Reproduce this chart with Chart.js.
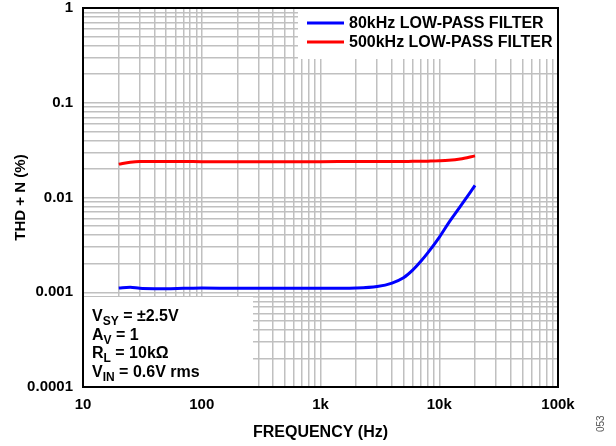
<!DOCTYPE html>
<html>
<head>
<meta charset="utf-8">
<script src="https://cdn.jsdelivr.net/npm/chart.js@4"></script>
<style>
  html, body { margin: 0; padding: 0; background: #fff; }
  #wrap { width: 616px; height: 446px; position: relative; }
</style>
</head>
<body>
<div id="wrap"><canvas id="thdChart" width="616" height="446"></canvas></div>
<script>
// 周波数 (Hz)
var freq = [20, 25, 30, 40, 50, 70, 100, 200, 500, 1000, 2000, 3000, 4000, 5000, 6000, 7000, 8000, 10000, 12000, 15000, 20000];
// 80kHz フィルタ THD+N (%)
var thd80k = [0.00111, 0.00113, 0.00110, 0.00109, 0.00109, 0.00110, 0.00111, 0.00110, 0.00110, 0.00110, 0.00111, 0.00115, 0.00125, 0.00142, 0.00172, 0.00212, 0.00260, 0.00380, 0.00540, 0.00800, 0.01340];
// 500kHz フィルタ THD+N (%)
var thd500k = [0.0225, 0.0236, 0.0240, 0.0240, 0.0240, 0.0240, 0.0239, 0.0239, 0.0239, 0.0239, 0.0240, 0.0240, 0.0240, 0.0240, 0.0241, 0.0241, 0.0242, 0.0244, 0.0247, 0.0255, 0.0275];

// 目盛り
var xDecades = [10, 100, 1000, 10000, 100000];
var xTickLabels = ["10", "100", "1k", "10k", "100k"];
var yDecades = [0.0001, 0.001, 0.01, 0.1, 1];
var yTickLabels = ["0.0001", "0.001", "0.01", "0.1", "1"];

// 条件の注記 [本文, 添字, 続き]
var notes = [
    ["V", "SY", " = ±2.5V"],
    ["A", "V", " = 1"],
    ["R", "L", " = 10kΩ"],
    ["V", "IN", " = 0.6V rms"]
];

var FONT = "'Liberation Sans', Arial, sans-serif";

function pair(xs, ys) {
    return xs.map(function (x, i) { return { x: x, y: ys[i] }; });
}

// 1〜9 倍のすべての目盛りを作る
function logTicks(decades) {
    var t = [];
    for (var d = 0; d < decades.length; d++) {
        if (d === decades.length - 1) { t.push({ value: decades[d] }); break; }
        for (var m = 1; m < 10; m++) t.push({ value: +(decades[d] * m).toPrecision(6) });
    }
    return t;
}

function labelFor(decades, labels, v) {
    for (var i = 0; i < decades.length; i++) {
        if (Math.abs(v / decades[i] - 1) < 1e-6) return labels[i];
    }
    return "";
}

// 凡例と注記の白い箱
var boxesPlugin = {
    id: "boxes",
    beforeDatasetsDraw: function (chart) {
        var ctx = chart.ctx, a = chart.chartArea;
        ctx.save();
        ctx.fillStyle = "#fff";
        // 凡例の箱
        ctx.fillRect(298, a.top, a.right - 298, 51);
        // 注記の箱
        ctx.fillRect(a.left, 297, 253 - a.left, a.bottom - 297);
        ctx.restore();
    },
    afterDatasetsDraw: function (chart) {
        var ctx = chart.ctx, a = chart.chartArea;
        ctx.save();
        // 凡例
        ctx.font = "bold 16px " + FONT;
        ctx.textBaseline = "middle";
        chart.data.datasets.forEach(function (ds, i) {
            var y = 23 + i * 19;
            ctx.strokeStyle = ds.borderColor;
            ctx.lineWidth = 3;
            ctx.beginPath();
            ctx.moveTo(307, y);
            ctx.lineTo(344, y);
            ctx.stroke();
            ctx.fillStyle = "#000";
            ctx.fillText(ds.label, 349, y + 1);
        });
        // 注記
        ctx.textBaseline = "alphabetic";
        notes.forEach(function (n, i) {
            var y = 321 + i * 18.7;
            var x = 92;
            ctx.font = "bold 16px " + FONT;
            ctx.fillText(n[0], x, y);
            x += ctx.measureText(n[0]).width;
            ctx.font = "bold 12px " + FONT;
            ctx.fillText(n[1], x, y + 4);
            x += ctx.measureText(n[1]).width;
            ctx.font = "bold 16px " + FONT;
            ctx.fillText(n[2], x, y);
        });
        // 枠線
        ctx.strokeStyle = "#000";
        ctx.lineWidth = 2;
        ctx.strokeRect(a.left, a.top, a.right - a.left, a.bottom - a.top);
        // 図番号
        ctx.fillStyle = "#555";
        ctx.font = "10px " + FONT;
        ctx.translate(604, 432);
        ctx.rotate(-Math.PI / 2);
        ctx.fillText("053", 0, 0);
        ctx.restore();
    }
};

var ctx = document.getElementById("thdChart");
var thdChart = new Chart(ctx, {
    type: "line",
    data: {
        datasets: [
            {
                label: "80kHz LOW-PASS FILTER",
                data: pair(freq, thd80k),
                borderColor: "#0000ff",
                borderWidth: 3,
                pointRadius: 0,
                cubicInterpolationMode: "monotone",
                fill: false
            },
            {
                label: "500kHz LOW-PASS FILTER",
                data: pair(freq, thd500k),
                borderColor: "#ff0000",
                borderWidth: 3,
                pointRadius: 0,
                cubicInterpolationMode: "monotone",
                fill: false
            }
        ]
    },
    options: {
        responsive: false,
        animation: false,
        layout: { padding: { top: 8, right: 58, left: 0, bottom: 0 } },
        plugins: {
            legend: { display: false },
            tooltip: { enabled: false }
        },
        scales: {
            x: {
                type: "logarithmic",
                min: 10,
                max: 100000,
                afterBuildTicks: function (s) { s.ticks = logTicks(xDecades); },
                afterFit: function (s) { s.height = 59; s.paddingLeft = 0; s.paddingRight = 0; },
                grid: { color: "#c0c0c0", lineWidth: 1.5, drawTicks: false },
                border: { color: "#000", width: 2 },
                ticks: {
                    autoSkip: false,
                    maxRotation: 0,
                    padding: 9,
                    color: "#000",
                    font: { family: FONT, size: 15, weight: "bold" },
                    callback: function (v) { return labelFor(xDecades, xTickLabels, v); }
                },
                title: {
                    display: true,
                    text: "FREQUENCY (Hz)",
                    color: "#000",
                    font: { family: FONT, size: 16, weight: "bold" },
                    padding: { top: 4, bottom: 4 }
                }
            },
            y: {
                type: "logarithmic",
                min: 0.0001,
                max: 1,
                afterBuildTicks: function (s) { s.ticks = logTicks(yDecades); },
                afterFit: function (s) { s.width = 83; s.paddingTop = 0; s.paddingBottom = 0; },
                grid: { color: "#c0c0c0", lineWidth: 1.5, drawTicks: false },
                border: { color: "#000", width: 2 },
                ticks: {
                    autoSkip: false,
                    padding: 10,
                    color: "#000",
                    font: { family: FONT, size: 15, weight: "bold" },
                    callback: function (v) { return labelFor(yDecades, yTickLabels, v); }
                },
                title: {
                    display: true,
                    text: "THD + N (%)",
                    color: "#000",
                    font: { family: FONT, size: 15, weight: "bold" },
                    padding: { top: 12, bottom: 0 }
                }
            }
        }
    },
    plugins: [boxesPlugin]
});
</script>
</body>
</html>
